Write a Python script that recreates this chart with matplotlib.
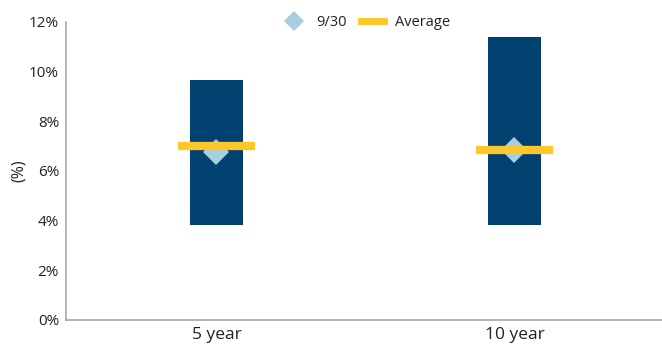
import matplotlib.pyplot as plt
from matplotlib.lines import Line2D
from matplotlib.ticker import FuncFormatter
import numpy as np

# range of yields per horizon (%)
categories = ["5 year", "10 year"]
range_low = [3.83, 3.83]
range_high = [9.67, 11.41]
current = [6.78, 6.85]   # 9/30
average = [7.00, 6.85]

NAVY = "#00416F"
LIGHT = "#A8CFDD"
GOLD = "#FFC72C"
SPINE = "#A3A7AB"
TEXT = "#222222"

plt.rcParams['font.family'] = ['Open Sans', 'DejaVu Sans']

fig = plt.figure(figsize=(6.62, 3.48), dpi=100)
ax = fig.add_axes([0.0997, 0.0805, 0.9003, 0.8563])

x = np.arange(len(categories))
low = np.array(range_low)
high = np.array(range_high)

ax.bar(x, high - low, bottom=low, width=0.178, color=NAVY, zorder=2)
ax.plot(x, current, linestyle='none', marker='D', markersize=13,
        color=LIGHT, markeredgewidth=0, zorder=3)
ax.hlines(average, x - 0.128, x + 0.128, colors=GOLD, linewidth=6, zorder=4)

ax.set_xlim(-0.505, 1.495)
ax.set_ylim(0, 12)
ax.set_yticks(np.arange(0, 13, 2))
ax.yaxis.set_major_formatter(FuncFormatter(lambda v, p: f"{v:.0f}%"))
ax.set_xticks(x)
ax.set_xticklabels(categories, fontsize=12.5, color=TEXT)
ax.tick_params(axis='y', labelsize=11, colors=TEXT, length=0, pad=5)
ax.tick_params(axis='x', length=0, pad=5)
ax.set_ylabel("(%)", fontsize=11.5, color=TEXT)
ax.yaxis.set_label_coords(-0.066, 0.5)

for side in ['top', 'right']:
    ax.spines[side].set_visible(False)
for side in ['left', 'bottom']:
    ax.spines[side].set_color(SPINE)
    ax.spines[side].set_linewidth(1.2)

handles = [
    Line2D([], [], linestyle='none', marker='D', markersize=10,
           color=LIGHT, markeredgewidth=0),
    Line2D([], [], color=GOLD, linewidth=5),
]
fig.legend(handles, ["9/30", "Average"], loc='center', bbox_to_anchor=(0.553, 0.935),
           ncol=2, frameon=False, fontsize=10.5, handlelength=1.6,
           handletextpad=0.7, columnspacing=1.0, labelcolor=TEXT)

fig.savefig("out.png", dpi=100)
